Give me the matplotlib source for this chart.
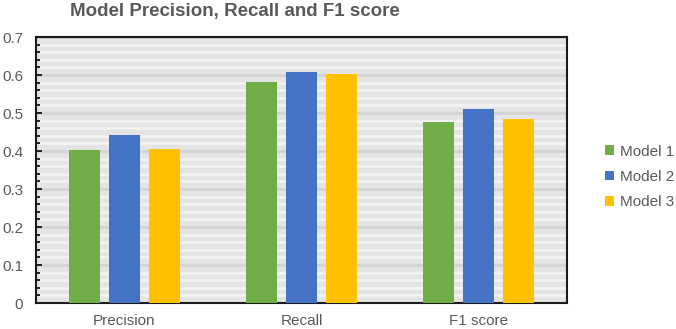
import numpy as np
import matplotlib
matplotlib.use("Agg")
import matplotlib.pyplot as plt
from matplotlib.ticker import MultipleLocator

# 图表数据
categories = ["Precision", "Recall", "F1 score"]
models = ["Model 1", "Model 2", "Model 3"]
model1 = [0.403, 0.582, 0.476]
model2 = [0.441, 0.607, 0.510]
model3 = [0.405, 0.603, 0.484]
colors = ["#70AD47", "#4472C4", "#FFC000"]

plt.rcParams["font.family"] = ["Liberation Sans", "DejaVu Sans"]

fig = plt.figure(figsize=(6.76, 3.29), dpi=100)
ax = fig.add_axes([0.053, 0.079, 0.786, 0.8085])

x = np.arange(len(categories))
width = 0.175
step = 0.226
for i, (vals, name) in enumerate(zip([model1, model2, model3], models)):
    ax.bar(x + (i - 1) * step, vals, width, color=colors[i], label=name, zorder=3)

ax.set_xlim(-0.5, 2.5)
ax.set_ylim(0, 0.7)
ax.set_xticks(x)
ax.set_xticklabels(categories, fontsize=11, color="#595959")
ax.yaxis.set_major_locator(MultipleLocator(0.1))
ax.yaxis.set_minor_locator(MultipleLocator(0.02))
ax.set_yticks(np.arange(0, 0.71, 0.1))
ax.set_yticklabels(["0"] + [f"{v:.1f}" for v in np.arange(0.1, 0.71, 0.1)], fontsize=11, color="#595959")

# 条纹背景
ax.set_facecolor("#e4e4e4")
ax.grid(which="minor", axis="y", color="#f2f2f2", linewidth=2.0, zorder=0)
ax.grid(which="major", axis="y", color="#d4d4d4", linewidth=2.0, zorder=1)
ax.tick_params(axis="x", length=0, pad=8)
ax.tick_params(axis="y", which="major", length=4, width=1.2, direction="in", pad=9)
ax.tick_params(axis="y", which="minor", length=3, width=1.2, direction="in")
for s in ax.spines.values():
    s.set_color("#1a1a1a")
    s.set_linewidth(1.5)

fig.suptitle("Model Precision, Recall and F1 score", x=0.348, y=0.99,
             fontsize=13.5, fontweight="bold", color="#595959")

leg = fig.legend(loc="center left", bbox_to_anchor=(0.895, 0.462), frameon=False,
                 borderaxespad=0, borderpad=0, fontsize=11, handlelength=0.6,
                 handleheight=0.6, handletextpad=0.35, labelspacing=0.75,
                 labelcolor="#595959")

fig.savefig("out.png", dpi=100)
